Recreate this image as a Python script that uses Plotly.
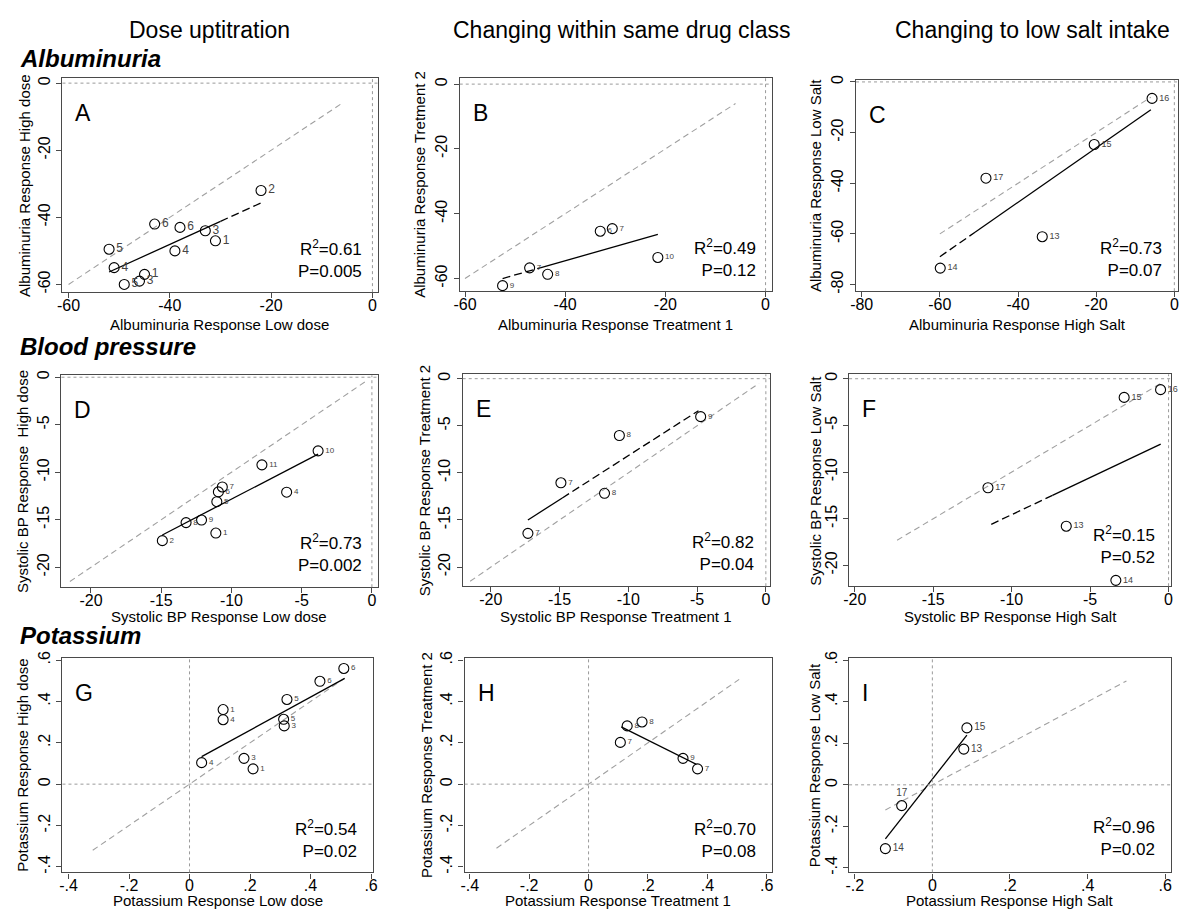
import plotly.graph_objects as go
import numpy as np

W, H = 1184, 913
FONT = "Liberation Sans, Arial, sans-serif"

# ---------------- data ----------------
headers = ["Dose uptitration", "Changing within same drug class", "Changing to low salt intake"]
row_titles = ["Albuminuria", "Blood pressure", "Potassium"]

A_x = [-22, -43, -38, -33, -31, -39, -52, -51, -45, -46, -49]
A_y = [-32, -42, -43, -44, -47, -50, -49.5, -55, -57, -59, -60]
A_lab = ["2", "6", "6", "3", "1", "4", "5", "4", "1", "3", "5"]
A_fit_x = [-52, -22]; A_fit_y = [-56.3, -35.7]
A_ref = [-60, -6]

B_x = [-30.6, -33, -21.5, -47.1, -43.5, -52.5]
B_y = [-44.6, -45.4, -53.5, -56.7, -58.7, -62.2]
B_lab = ["7", "6", "10", "7", "8", "9"]
B_fit_x = [-52.5, -21.5]; B_fit_y = [-60, -46.4]
B_ref = [-60, -6]

C_x = [-5.7, -20.5, -48.2, -33.8, -59.9]
C_y = [-6.5, -24.7, -38, -61.1, -73.5]
C_lab = ["16", "15", "17", "13", "14"]
C_fit_x = [-60, -6]; C_fit_y = [-69, -11]
C_ref = [-60, -6]

D_x = [-3.83, -7.83, -10.65, -10.93, -6.07, -11.04, -12.13, -13.23, -11.11, -14.92]
D_y = [-7.75, -9.22, -11.55, -12.07, -12.1, -13.1, -15.03, -15.3, -16.4, -17.2]
D_lab = ["10", "11", "7", "6", "4", "5", "9", "8", "1", "2"]
D_fit_x = [-14.92, -3.83]; D_fit_y = [-16.6, -8.1]
D_ref = [-21.5, -0.5]

E_x = [-4.74, -10.65, -14.9, -11.73, -17.3]
E_y = [-4.03, -6.03, -11.05, -12.17, -16.42]
E_lab = ["9", "8", "7", "8", "7"]
E_fit_x = [-17.3, -4.9]; E_fit_y = [-15.0, -3.4]
E_ref = [-21.5, -0.5]

F_x = [-0.51, -2.83, -11.51, -6.52, -3.36]
F_y = [-1.17, -2.0, -11.68, -15.8, -21.6]
F_lab = ["16", "15", "17", "13", "14"]
F_fit_x = [-11.3, -0.5]; F_fit_y = [-15.6, -7.0]
F_ref = [-17.3, -0.5]

G_x = [0.51, 0.431, 0.322, 0.111, 0.111, 0.311, 0.313, 0.18, 0.21, 0.04]
G_y = [0.56, 0.498, 0.41, 0.361, 0.312, 0.314, 0.282, 0.125, 0.074, 0.104]
G_lab = ["6", "6", "5", "1", "4", "5", "3", "3", "1", "4"]
G_fit_x = [0.04, 0.513]; G_fit_y = [0.133, 0.512]
G_ref = [-0.32, 0.51]

H_x = [0.18, 0.13, 0.107, 0.318, 0.367]
H_y = [0.301, 0.282, 0.202, 0.125, 0.074]
H_lab = ["8", "8", "7", "9", "7"]
H_fit_x = [0.11, 0.363]; H_fit_y = [0.277, 0.096]
H_ref = [-0.31, 0.507]

I_x = [0.089, 0.081, -0.079, -0.121]
I_y = [0.274, 0.172, -0.1, -0.307]
I_lab = ["15", "13", "17", "14"]
I_fit_x = [-0.121, 0.089]; I_fit_y = [-0.26, 0.239]
I_ref = [-0.121, 0.50]

r2 = {"A": "0.61", "B": "0.49", "C": "0.73", "D": "0.73", "E": "0.82",
      "F": "0.15", "G": "0.54", "H": "0.70", "I": "0.96"}
pval = {"A": "0.005", "B": "0.12", "C": "0.07", "D": "0.002", "E": "0.04",
        "F": "0.52", "G": "0.02", "H": "0.08", "I": "0.02"}

xtitles = {"A": "Albuminuria Response Low dose", "B": "Albuminuria Response Treatment 1",
           "C": "Albuminuria Response High Salt", "D": "Systolic BP Response Low dose",
           "E": "Systolic BP Response Treatment 1", "F": "Systolic BP Response High Salt",
           "G": "Potassium Response Low dose", "H": "Potassium Response Treatment 1",
           "I": "Potassium Response High Salt"}
ytitles = {"A": "Albuminuria Response High dose", "B": "Albuminuria Response Tretment 2",
           "C": "Albuminuria Response Low Salt", "D": "Systolic BP Response\u00a0 High dose",
           "E": "Systolic BP Response Treatment 2", "F": "Systolic BP Response Low Salt",
           "G": "Potassium Response High dose", "H": "Potassium Response Treatment 2",
           "I": "Potassium Response Low Salt"}

alb_ticks = [-60, -40, -20, 0]
alb_ticks_c = [-80, -60, -40, -20, 0]
bp_ticks = [-20, -15, -10, -5, 0]
k_ticks = [-0.4, -0.2, 0, 0.2, 0.4, 0.6]
k_ticks_i = [-0.2, 0, 0.2, 0.4, 0.6]
k_text = ["-.4", "-.2", "0", ".2", ".4", ".6"]
k_text_i = ["-.2", "0", ".2", ".4", ".6"]

# ---------------- layout (pixel boxes: left, right, top, bottom) ----------------
panels = {
    "A": dict(x=A_x, y=A_y, lab=A_lab, fx=A_fit_x, fy=A_fit_y, ref=A_ref, split=-30, dash_side="right",
              box=(57, 375, 73, 289), xr=[-61.2, 1.0], yr=[-62.3, 1.45], xt=alb_ticks, yt=alb_ticks,
              lfs=12, ytx=18, sy=9),
    "B": dict(x=B_x, y=B_y, lab=B_lab, fx=B_fit_x, fy=B_fit_y, ref=B_ref, split=-45, dash_side="left",
              box=(458, 773, 73, 288), xr=[-61.05, 1.25], yr=[-63.9, 1.8], xt=alb_ticks, yt=alb_ticks,
              lfs=8, ytx=418, sy=9),
    "C": dict(x=C_x, y=C_y, lab=C_lab, fx=C_fit_x, fy=C_fit_y, ref=C_ref, split=-51, dash_side="left",
              box=(858, 1183, 75, 288), xr=[-81.45, 0.94], yr=[-82.6, 0.66], xt=alb_ticks_c, yt=alb_ticks_c,
              lfs=9, ytx=817, sy=9),
    "D": dict(x=D_x, y=D_y, lab=D_lab, fx=D_fit_x, fy=D_fit_y, ref=D_ref, split=None, dash_side=None,
              box=(56, 375, 373, 587), xr=[-22.1, 0.4], yr=[-22.1, 0.2], xt=bp_ticks, yt=bp_ticks,
              lfs=8, ytx=16, sy=10),
    "E": dict(x=E_x, y=E_y, lab=E_lab, fx=E_fit_x, fy=E_fit_y, ref=E_ref, split=-14.8, dash_side="right",
              box=(461, 771, 372, 586), xr=[-22.04, 0.29], yr=[-22.03, 0.46], xt=bp_ticks, yt=bp_ticks,
              lfs=8, ytx=422, sy=10),
    "F": dict(x=F_x, y=F_y, lab=F_lab, fx=F_fit_x, fy=F_fit_y, ref=F_ref, split=-7.4, dash_side="left",
              box=(851, 1176, 372, 586), xr=[-20.36, 0.16], yr=[-22.23, 0.47], xt=bp_ticks, yt=bp_ticks,
              lfs=9, ytx=817, sy=17),
    "G": dict(x=G_x, y=G_y, lab=G_lab, fx=G_fit_x, fy=G_fit_y, ref=G_ref, split=None, dash_side=None,
              box=(57, 370, 658, 875), xr=[-0.42, 0.605], yr=[-0.427, 0.613], xt=k_ticks, yt=k_ticks,
              xtt=k_text, ytt=k_text, lfs=8, ytx=17, sy=9),
    "H": dict(x=H_x, y=H_y, lab=H_lab, fx=H_fit_x, fy=H_fit_y, ref=H_ref, split=None, dash_side=None,
              box=(463, 773, 658, 875), xr=[-0.417, 0.617], yr=[-0.427, 0.613], xt=k_ticks, yt=k_ticks,
              xtt=k_text, ytt=k_text, lfs=8, ytx=425, sy=9),
    "I": dict(x=I_x, y=I_y, lab=I_lab, fx=I_fit_x, fy=I_fit_y, ref=I_ref, split=None, dash_side=None,
              box=(851, 1176, 658, 875), xr=[-0.2145, 0.615], yr=[-0.4215, 0.613], xt=k_ticks_i, yt=k_ticks,
              xtt=k_text_i, ytt=k_text, lfs=10, ytx=817, sy=11,
              tpos=["middle right", "middle right", "top center", "middle right"]),
}
xtitle_y = {"A": 322, "B": 322, "C": 322, "D": 617, "E": 617, "F": 617, "G": 903, "H": 903, "I": 903}

FRAME = "#4a4a4a"
fig = go.Figure()
layout = dict(width=W, height=H, margin=dict(l=0, r=0, t=0, b=0), showlegend=False,
              paper_bgcolor="white", plot_bgcolor="white", font=dict(family=FONT, color="black"))
annotations = []
shapes = []

for n, (key, p) in enumerate(panels.items(), start=1):
    xa = "x" if n == 1 else f"x{n}"
    ya = "y" if n == 1 else f"y{n}"
    l, r, t, b = p["box"]
    xdom = [l / W, r / W]
    ydom = [1 - b / H, 1 - t / H]
    common = dict(showline=True, mirror=True, linecolor=FRAME, linewidth=1.4, ticks="outside",
                  ticklen=5, tickwidth=1.2, tickcolor=FRAME, showgrid=False, zeroline=False,
                  tickfont=dict(family=FONT, size=16, color="black"))
    layout[f"xaxis{'' if n == 1 else n}"] = dict(common, domain=xdom, range=p["xr"], anchor=ya,
                                                 ticklabelstandoff=-7,
                                                 tickvals=p["xt"], ticktext=p.get("xtt", [str(v) for v in p["xt"]]))
    layout[f"yaxis{'' if n == 1 else n}"] = dict(common, domain=ydom, range=p["yr"], anchor=xa, tickangle=-90,
                                                 tickvals=p["yt"], ticktext=p.get("ytt", [str(v) for v in p["yt"]]))

    # zero reference dotted lines
    shapes.append(dict(type="line", xref=xa, yref=f"{ya} domain", x0=0, x1=0, y0=0, y1=1,
                       line=dict(color="#9a9a9a", width=1, dash="dot")))
    shapes.append(dict(type="line", xref=f"{xa} domain", yref=ya, x0=0, x1=1, y0=0, y1=0,
                       line=dict(color="#9a9a9a", width=1, dash="dot")))

    # identity line
    fig.add_trace(go.Scatter(x=p["ref"], y=p["ref"], mode="lines", xaxis=xa, yaxis=ya,
                             line=dict(color="#a0a0a0", width=1.1, dash="6px,4px"), hoverinfo="skip"))

    # fit line (solid + dashed parts)
    fx, fy = p["fx"], p["fy"]
    if p["split"] is None:
        fig.add_trace(go.Scatter(x=fx, y=fy, mode="lines", xaxis=xa, yaxis=ya,
                                 line=dict(color="black", width=1.3), hoverinfo="skip"))
    else:
        sx = p["split"]
        sy = float(np.interp(sx, fx, fy))
        left = ([fx[0], sx], [fy[0], sy])
        right = ([sx, fx[1]], [sy, fy[1]])
        dashed, solid = (left, right) if p["dash_side"] == "left" else (right, left)
        fig.add_trace(go.Scatter(x=solid[0], y=solid[1], mode="lines", xaxis=xa, yaxis=ya,
                                 line=dict(color="black", width=1.3), hoverinfo="skip"))
        fig.add_trace(go.Scatter(x=dashed[0], y=dashed[1], mode="lines", xaxis=xa, yaxis=ya,
                                 line=dict(color="black", width=1.3, dash="8px,4px"), hoverinfo="skip"))

    # points
    fig.add_trace(go.Scatter(x=p["x"], y=p["y"], mode="markers+text", xaxis=xa, yaxis=ya,
                             text=p["lab"], textposition=p.get("tpos", "middle right"),
                             textfont=dict(family=FONT, size=p["lfs"], color="#444"),
                             marker=dict(symbol="circle-open", size=10, color="black",
                                         line=dict(width=1.1, color="black")),
                             cliponaxis=False, hoverinfo="skip"))

    # panel letter
    annotations.append(dict(text=key, xref=f"{xa} domain", yref=f"{ya} domain", x=0, y=1,
                            xanchor="left", yanchor="top", xshift=11, yshift=-20, showarrow=False,
                            font=dict(family=FONT, size=23, color="black")))
    # stats
    annotations.append(dict(text=f"R<sup>2</sup>={r2[key]}<br>P={pval[key]}", xref=f"{xa} domain",
                            yref=f"{ya} domain", x=1, y=0, xanchor="right", yanchor="bottom",
                            xshift=-14, yshift=p["sy"], align="right", showarrow=False,
                            font=dict(family=FONT, size=17, color="black")))
    # axis titles
    annotations.append(dict(text=xtitles[key], xref="paper", yref="paper", x=(l + r) / 2 / W,
                            y=1 - xtitle_y[key] / H, xanchor="center", yanchor="middle", showarrow=False,
                            font=dict(family=FONT, size=15, color="black")))
    annotations.append(dict(text=ytitles[key], xref="paper", yref="paper", x=p["ytx"] / W,
                            y=1 - (t + b) / 2 / H, xanchor="center", yanchor="middle", showarrow=False,
                            textangle=-90, font=dict(family=FONT, size=15, color="black")))

# column headers
for txt, cx in zip(headers, [205, 622, 1036]):
    annotations.append(dict(text=txt, xref="paper", yref="paper", x=cx / W, y=1 - 24 / H,
                            xanchor="center", yanchor="middle", showarrow=False,
                            font=dict(family=FONT, size=23, color="black")))
# row titles
for txt, cy in zip(row_titles, [53, 344, 636]):
    annotations.append(dict(text=f"<b><i>{txt}</i></b>", xref="paper", yref="paper", x=12 / W,
                            y=1 - cy / H, xanchor="left", yanchor="middle", showarrow=False,
                            font=dict(family=FONT, size=24, color="black")))

layout["annotations"] = annotations
layout["shapes"] = shapes
fig.update_layout(**layout)
fig.write_html("out.html")
